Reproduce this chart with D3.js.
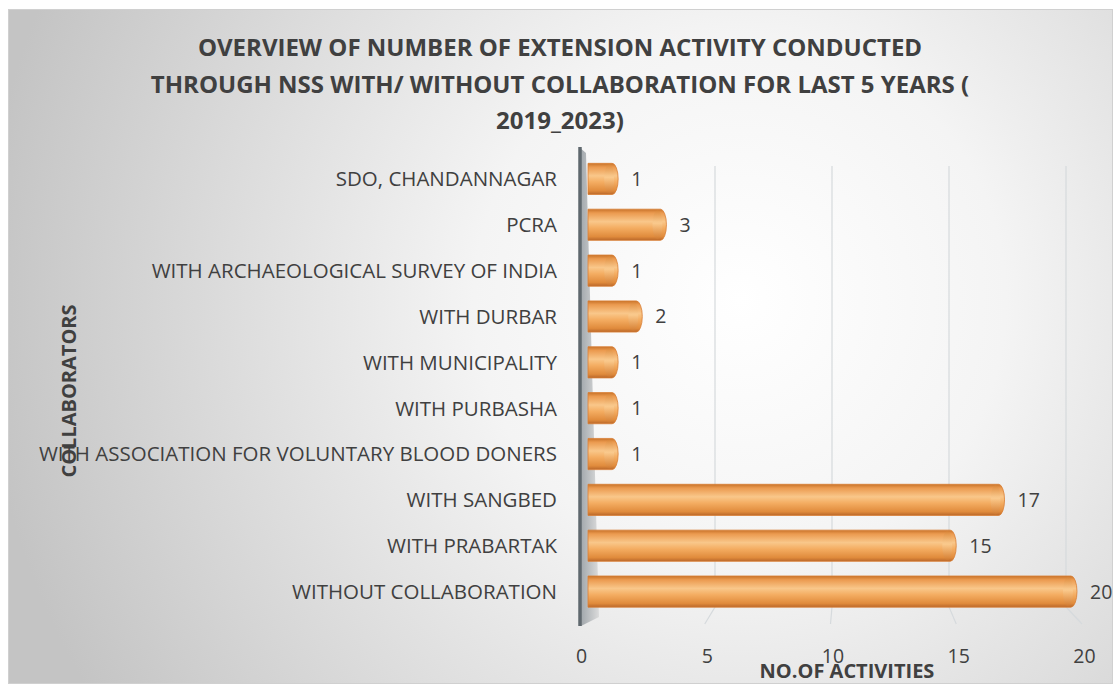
<!DOCTYPE html>
<html>
<head>
<meta charset="utf-8">
<script src="https://cdn.jsdelivr.net/npm/d3@7"></script>
<style>
  body { margin: 0; background: #fff; }
  svg text { font-family: "Open Sans", "Liberation Sans", sans-serif; }
</style>
</head>
<body>
<div id="chart"></div>
<script>
const width = 1113;
const height = 684;

// data
const collaborators = [
  "SDO, CHANDANNAGAR",
  "PCRA",
  "WITH ARCHAEOLOGICAL SURVEY OF INDIA",
  "WITH DURBAR",
  "WITH MUNICIPALITY",
  "WITH PURBASHA",
  "WITH ASSOCIATION FOR VOLUNTARY BLOOD DONERS",
  "WITH SANGBED",
  "WITH PRABARTAK",
  "WITHOUT COLLABORATION"
];
const activities = [1, 3, 1, 2, 1, 1, 1, 17, 15, 20];
const xTicks = [0, 5, 10, 15, 20];
const titleLines = [
  "OVERVIEW OF NUMBER OF EXTENSION ACTIVITY CONDUCTED",
  "THROUGH NSS WITH/ WITHOUT COLLABORATION FOR LAST 5 YEARS (",
  "2019_2023)"
];

const rows = collaborators.map((c, i) => ({ name: c, value: activities[i] }));

const svg = d3.select("#chart")
  .append("svg")
  .attr("width", width)
  .attr("height", height);

const defs = svg.append("defs");

// background gradient
const bg = defs.append("radialGradient")
  .attr("id", "bg")
  .attr("gradientUnits", "userSpaceOnUse")
  .attr("cx", 740).attr("cy", 300).attr("r", 760);
bg.append("stop").attr("offset", "0%").attr("stop-color", "#ffffff");
bg.append("stop").attr("offset", "35%").attr("stop-color", "#f4f4f4");
bg.append("stop").attr("offset", "100%").attr("stop-color", "#c4c4c4");

// cylinder gradient
const cyl = defs.append("linearGradient")
  .attr("id", "cyl")
  .attr("x1", 0).attr("y1", 0).attr("x2", 0).attr("y2", 1);
[["0%", "#c8732a"], ["12%", "#eb9a4f"], ["40%", "#f9c78a"], ["60%", "#f4ad62"], ["88%", "#e08b3c"], ["100%", "#b9672a"]]
  .forEach(([o, c]) => cyl.append("stop").attr("offset", o).attr("stop-color", c));

const cap = defs.append("linearGradient")
  .attr("id", "cap")
  .attr("x1", 0).attr("y1", 0).attr("x2", 0).attr("y2", 1);
[["0%", "#d98636"], ["45%", "#fbcf95"], ["100%", "#d07a30"]]
  .forEach(([o, c]) => cap.append("stop").attr("offset", o).attr("stop-color", c));

const wallG = defs.append("linearGradient")
  .attr("id", "wall")
  .attr("x1", 0).attr("y1", 0).attr("x2", 1).attr("y2", 0);
wallG.append("stop").attr("offset", "0%").attr("stop-color", "#8c949a");
wallG.append("stop").attr("offset", "100%").attr("stop-color", "#d8d8d8");

// chart area
svg.append("rect")
  .attr("x", 8.5).attr("y", 9.5)
  .attr("width", width - 9).attr("height", height - 10)
  .attr("fill", "url(#bg)")
  .attr("stroke", "#d0d0d0");

// scales
const y = d3.scaleBand()
  .domain(collaborators)
  .range([156, 614.5])
  .paddingInner(0.32)
  .paddingOuter(0.16);

const x = d3.scaleLinear().domain([0, 20]).range([594, 1077]);      // bar ends
const xGrid = d3.scaleLinear().domain([0, 20]).range([598, 1066]);  // back wall grid
const xFloor = d3.scaleLinear().domain([0, 20]).range([581, 1084]); // floor front edge

// gridlines
const grid = svg.append("g");
grid.selectAll("path")
  .data(xTicks.filter(d => d > 0))
  .enter()
  .append("path")
  .attr("d", d => `M${xGrid(d)},166 L${xGrid(d)},607 L${xFloor(d) - 2},624`)
  .attr("fill", "none")
  .attr("stroke", "#d6dadd")
  .attr("stroke-width", 1.2);

// side wall
svg.append("path")
  .attr("d", "M579,147 L586,153 L599,617 L581,626 Z")
  .attr("fill", "url(#wall)")
  .attr("opacity", 0.85);
svg.append("line")
  .attr("x1", 580).attr("y1", 147)
  .attr("x2", 580).attr("y2", 626)
  .attr("stroke", "#5f686e")
  .attr("stroke-width", 3.5);

// bars
const bars = svg.append("g")
  .selectAll("g")
  .data(rows)
  .enter()
  .append("g");

bars.append("path")
  .attr("d", d => {
    const y0 = y(d.name), h = y.bandwidth(), r = 6;
    const x0 = 588, x1 = x(d.value) - r;
    return `M${x0},${y0} L${x1},${y0} A${r},${h / 2} 0 0 1 ${x1},${y0 + h} L${x0},${y0 + h} Z`;
  })
  .attr("fill", "url(#cyl)")
  .attr("stroke", "#d97f35")
  .attr("stroke-width", 0.8);

bars.append("ellipse")
  .attr("cx", d => x(d.value) - 9)
  .attr("cy", d => y(d.name) + y.bandwidth() / 2)
  .attr("rx", 5)
  .attr("ry", d => y.bandwidth() / 2 - 1)
  .attr("fill", "url(#cap)")
  .attr("opacity", 0.6);

// value labels
bars.append("text")
  .attr("x", d => x(d.value) + 13)
  .attr("y", d => y(d.name) + y.bandwidth() / 2)
  .attr("dy", "0.36em")
  .attr("font-size", 19.5)
  .attr("fill", "#404040")
  .text(d => d.value);

// category labels
svg.append("g")
  .selectAll("text")
  .data(collaborators)
  .enter()
  .append("text")
  .attr("x", 557)
  .attr("y", d => y(d) + y.bandwidth() / 2)
  .attr("dy", "0.36em")
  .attr("text-anchor", "end")
  .attr("font-size", 20.5)
  .attr("fill", "#404040")
  .text(d => d);

// x axis tick labels
const xAxis = d3.axisBottom(xFloor).tickValues(xTicks).tickSize(0).tickPadding(0);
const ax = svg.append("g")
  .attr("transform", "translate(0,649)")
  .call(xAxis);
ax.select(".domain").remove();
ax.selectAll("text")
  .attr("font-size", 19.5)
  .attr("fill", "#404040")
  .style("font-family", "'Open Sans', sans-serif");

// axis titles
svg.append("text")
  .attr("x", 847)
  .attr("y", 678)
  .attr("text-anchor", "middle")
  .attr("font-size", 20)
  .attr("font-weight", "bold")
  .attr("fill", "#404040")
  .text("NO.OF ACTIVITIES");

svg.append("text")
  .attr("transform", "translate(76,391) rotate(-90)")
  .attr("text-anchor", "middle")
  .attr("font-size", 20)
  .attr("font-weight", "bold")
  .attr("fill", "#404040")
  .text("COLLABORATORS");

// title
svg.append("text")
  .attr("text-anchor", "middle")
  .attr("font-size", 24)
  .attr("font-weight", "bold")
  .attr("fill", "#404040")
  .selectAll("tspan")
  .data(titleLines)
  .enter()
  .append("tspan")
  .attr("x", 560)
  .attr("y", (d, i) => [56, 93, 129][i])
  .text(d => d);
</script>
</body>
</html>
